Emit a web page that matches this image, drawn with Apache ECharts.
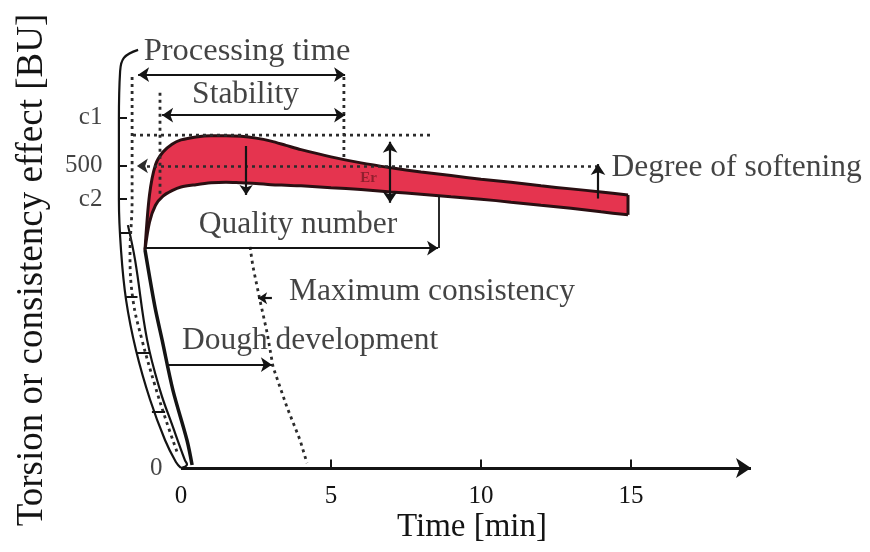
<!DOCTYPE html>
<html>
<head>
<meta charset="utf-8">
<script src="https://cdn.jsdelivr.net/npm/echarts@6/dist/echarts.min.js"></script>
<style>
  html, body { margin: 0; padding: 0; background: #ffffff; }
  #chart { width: 870px; height: 552px; }
</style>
</head>
<body>
<div id="chart"></div>
<script>
// Farinogram: torsion of the mixing blades (BU) against mixing time (min)

// Consistency band, upper and lower edge
const times   = [-1.2, -1.05, -0.85, -0.6, -0.3, 0, 0.5, 1, 1.5, 2, 2.5, 3, 3.5, 4, 5, 6, 7, 8, 9, 10, 11, 12, 13, 14, 14.9];
const upperBU = [361, 452, 502, 523, 536, 543, 548, 550, 550, 549, 546, 541, 534, 527, 515, 505, 497, 490, 484, 478, 473, 467, 462, 457, 452];
const lowerBU = [361, 407, 435, 450, 459, 465, 469, 472, 473, 472, 471, 469, 468, 467, 464, 461, 457, 453, 449, 445, 440, 435, 430, 424, 419];

// Axis ticks
const xTickValues = [0, 5, 10, 15];
const xTickMarks  = [5, 10, 15];
const yTickValues = [0, 445, 500, 580];
const yTickLabels = ['0', 'c2', '500', 'c1'];

// Rising part of the curve before the band opens
const riseCurve = [[-1.2, 361], [-0.87, 267], [-0.63, 212], [-0.27, 129], [0.2, 46], [0.37, 5]];

// Curved torsion scale on the left
const scaleOuter  = [[-1.43, 692], [-1.9, 679], [-2.03, 656], [-2.07, 576], [-2.07, 444], [-2.0, 361], [-1.83, 278], [-1.5, 195], [-1.03, 113], [-0.53, 46], [-0.17, 10], [0, 0]];
const scaleInner  = [[-1.77, 402], [-1.53, 344], [-1.13, 212], [-0.7, 129], [-0.27, 68], [0.13, 13], [0.2, 6], [0, 0]];
const scaleCenter = [[-1.63, 647], [-1.63, 444], [-1.7, 353], [-1.6, 278], [-1.3, 212], [-0.87, 137], [-0.5, 79], [-0.1, 22]];
const scaleTicks  = [
  [[-2.07, 580], [-1.8, 580]],
  [[-2.07, 500], [-1.8, 500]],
  [[-2.07, 445], [-1.8, 445]],
  [[-2.02, 390], [-1.72, 390]],
  [[-1.83, 283], [-1.45, 283]],
  [[-1.47, 190], [-1.03, 190]],
  [[-0.97, 93], [-0.53, 93]]
];

// Reading lines
const stabilityStart = [[-0.7, 621], [-0.7, 452]];
const stabilityEnd   = [[5.43, 647], [5.43, 510]];
const peakLevel      = [[-1.6, 551], [8.3, 551]];
const qualityEnd     = [[8.6, 364], [8.6, 451]];
const maxConsistency = [[2.3, 366], [2.4, 333], [2.63, 278], [2.87, 224], [3.07, 167], [3.53, 101], [3.97, 46], [4.2, 8]];
const bandEnd        = [[14.9, 419], [14.9, 452]];

// Measurement arrows
const processingArrow = [[-1.43, 651], [5.47, 651]];
const stabilityArrow  = [[-0.63, 584], [5.47, 584]];
const qualityArrow    = [[-1.2, 364], [8.57, 364]];
const doughArrow      = [[-0.47, 171], [3.03, 171]];
const maxConsPointer  = [[3.03, 281], [2.57, 281]];
const toleranceArrow  = [[6.97, 540], [6.97, 439]];
const peakArrow       = [[2.17, 533], [2.17, 452]];
const softeningArrow  = [[13.9, 446], [13.9, 503]];
const level500Arrow   = [[13.9, 500], [-1.47, 500]];

const INK = '#141414';
const OUTLINE = '#2a0f12';
const FONT = '"Liberation Serif", "Times New Roman", serif';
const DOTS = [3, 4];
const pairs = (ys) => times.map((t, i) => [t, ys[i]]);

function plainLine(data, opts) {
  return Object.assign({
    type: 'line', data: data, symbol: 'none', clip: false, silent: true,
    lineStyle: { color: INK, width: 2 }, z: 5
  }, opts || {});
}
function dotted(data, opts) {
  return plainLine(data, Object.assign({ lineStyle: { color: '#2b2b2b', width: 2.8, type: DOTS } }, opts || {}));
}
function arrow(coords, ends, opts) {
  return Object.assign({
    type: 'lines', coordinateSystem: 'cartesian2d', clip: false, silent: true,
    polyline: coords.length > 2,
    symbol: ends, symbolSize: 11,
    lineStyle: { color: INK, width: 2.2, opacity: 1 },
    itemStyle: { color: INK },
    data: [{ coords: coords }], z: 8
  }, opts || {});
}
function note(t, bu, text, extra) {
  return {
    value: [t, bu],
    label: Object.assign({
      show: true, formatter: text, position: 'inside',
      fontFamily: FONT, fontSize: 31.5, color: '#141414'
    }, extra || {})
  };
}

const notes = [
  note(2.2, 690, 'Processing time', { fontSize: 32.5 }),
  note(2.15, 617, 'Stability'),
  note(3.9, 402, 'Quality number'),
  note(3.6, 291, 'Maximum consistency', { align: 'left' }),
  note(0.03, 210, 'Dough development', { align: 'left' }),
  note(14.35, 497, 'Degree of softening', { align: 'left' }),
  note(6.25, 480, 'Er', { fontSize: 15, color: '#7a1a26', fontWeight: 'bold' })
];

const yLabels = yTickValues.map((v, i) => ({
  value: [v === 0 ? -0.62 : -2.62, v],
  label: {
    show: true, formatter: yTickLabels[i], position: 'inside', align: 'right',
    fontFamily: FONT, fontSize: 25, color: '#141414'
  }
}));

const chart = echarts.init(document.getElementById('chart'), null, { renderer: 'canvas' });
chart.setOption({
  backgroundColor: '#ffffff',
  animation: false,
  grid: { left: 91, right: 119, top: 33, bottom: 84 },
  xAxis: {
    type: 'value', min: -3, max: 19,
    axisLine: { show: false },
    splitLine: { show: false },
    axisTick: { show: false },
    axisLabel: {
      customValues: xTickValues, margin: 16,
      fontFamily: FONT, fontSize: 25, color: '#141414'
    }
  },
  yAxis: { type: 'value', min: 0, max: 720, show: false },
  graphic: [
    {
      type: 'text', x: 32, y: 270, rotation: Math.PI / 2,
      style: {
        text: 'Torsion or consistency effect [BU]', fill: '#141414',
        font: '37px "Liberation Serif", serif', align: 'center', verticalAlign: 'middle'
      }
    },
    {
      type: 'text', x: 472, y: 527,
      style: {
        text: 'Time [min]', fill: '#141414',
        font: '33px "Liberation Serif", serif', align: 'center', verticalAlign: 'middle'
      }
    }
  ],
  series: [
    // consistency band: red under the upper edge, cleared under the lower edge
    plainLine(pairs(upperBU), {
      name: 'upper', smooth: 0.3,
      lineStyle: { color: OUTLINE, width: 3 },
      areaStyle: { color: '#e5344f', opacity: 1 }, z: 1
    }),
    plainLine(pairs(lowerBU), {
      name: 'lower', smooth: 0.3,
      lineStyle: { color: OUTLINE, width: 3 },
      areaStyle: { color: '#ffffff', opacity: 1 }, z: 2
    }),
    plainLine(bandEnd, { lineStyle: { color: OUTLINE, width: 3 }, z: 4 }),

    // rising curve and the curved scale
    plainLine(riseCurve, { smooth: 0.3, lineStyle: { color: INK, width: 3.5 } }),
    plainLine(scaleOuter, { smooth: 0.4, lineStyle: { color: INK, width: 2.2 } }),
    plainLine(scaleInner, { smooth: 0.4, lineStyle: { color: INK, width: 2.2 } }),
    dotted(scaleCenter, { smooth: 0.4 }),
    {
      type: 'lines', coordinateSystem: 'cartesian2d', clip: false, silent: true,
      lineStyle: { color: INK, width: 2, opacity: 1 },
      data: scaleTicks.map(c => ({ coords: c })), z: 6
    },

    // reading lines
    dotted(stabilityStart),
    dotted(stabilityEnd),
    dotted(peakLevel),
    plainLine(qualityEnd, { lineStyle: { color: INK, width: 1.8 } }),

    // arrows
    {
      type: 'lines', coordinateSystem: 'cartesian2d', clip: false, silent: true,
      polyline: true, symbol: ['none', 'arrow'], symbolSize: 10,
      lineStyle: { color: '#2b2b2b', width: 2.8, type: DOTS, opacity: 1 },
      itemStyle: { color: INK },
      data: [{ coords: maxConsistency }], z: 7
    },
    arrow(level500Arrow, ['none', 'arrow'], {
      lineStyle: { color: '#2b2b2b', width: 2.6, type: DOTS, opacity: 1 }
    }),
    arrow(processingArrow, ['arrow', 'arrow']),
    arrow(stabilityArrow, ['arrow', 'arrow']),
    arrow(qualityArrow, ['none', 'arrow']),
    arrow(doughArrow, ['none', 'arrow']),
    arrow(maxConsPointer, ['none', 'arrow'], { symbolSize: 9 }),
    arrow(toleranceArrow, ['arrow', 'arrow']),
    arrow(peakArrow, ['none', 'arrow'], { symbolSize: 10 }),
    arrow(softeningArrow, ['none', 'arrow']),

    // time axis with arrow head and tick marks
    arrow([[0, 0], [19, 0]], ['none', 'arrow'], {
      symbolSize: 15, lineStyle: { color: INK, width: 3, opacity: 1 }, z: 9
    }),
    {
      type: 'lines', coordinateSystem: 'cartesian2d', clip: false, silent: true,
      lineStyle: { color: INK, width: 2, opacity: 1 },
      data: xTickMarks.map(v => ({ coords: [[v, 0], [v, 14]] })), z: 9
    },

    // texts
    { type: 'scatter', symbolSize: 0, clip: false, silent: true, data: notes, z: 10 },
    { type: 'scatter', symbolSize: 0, clip: false, silent: true, data: yLabels, z: 10 }
  ]
});
</script>
</body>
</html>
